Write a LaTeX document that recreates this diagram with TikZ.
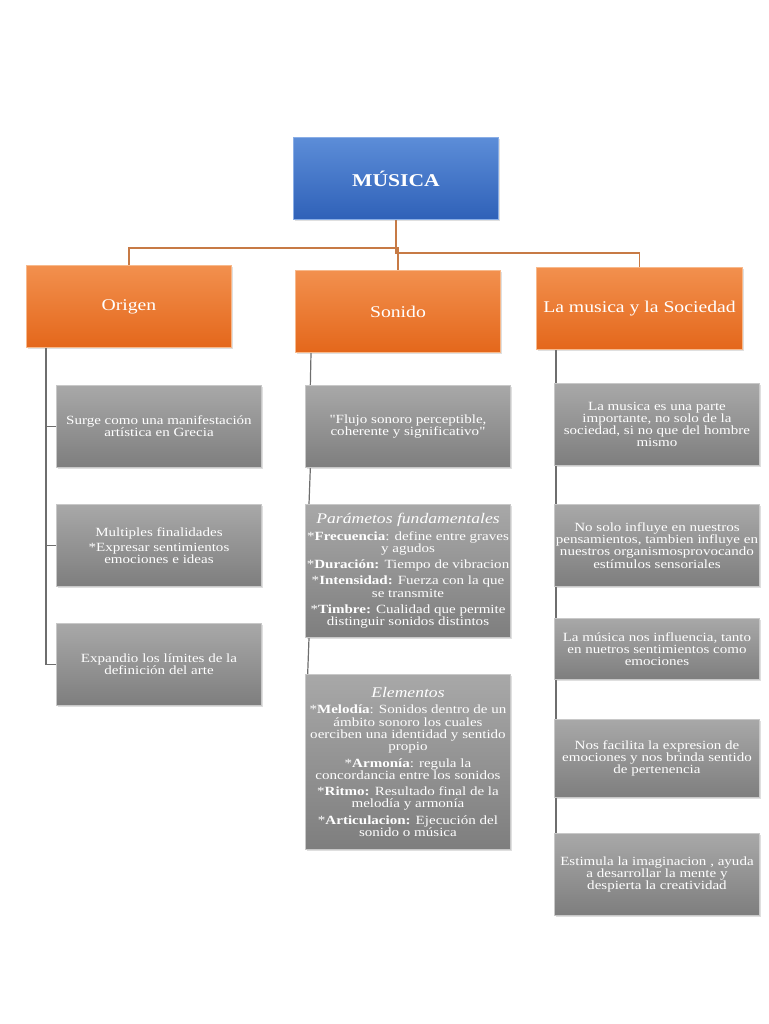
\documentclass[tikz,border=0pt]{standalone}
\usepackage{fontspec}
\setmainfont{Liberation Serif}[FakeStretch=1.2, Ligatures=TeXOff]
\usetikzlibrary{shadows,backgrounds}
\definecolor{bTop}{HTML}{5C8DD8}
\definecolor{bBot}{HTML}{2F61B8}
\definecolor{bEdge}{HTML}{8AAEE6}
\definecolor{oTop}{HTML}{F2904E}
\definecolor{oBot}{HTML}{E4671B}
\definecolor{oEdge}{HTML}{F7B98C}
\definecolor{gTop}{HTML}{A8A8A8}
\definecolor{gBot}{HTML}{7E7E7E}
\definecolor{gEdge}{HTML}{C8C8C8}
\definecolor{oLine}{HTML}{C77A45}
\definecolor{gLine}{HTML}{6E6E6E}
\tikzset{
  basebox/.style={rectangle, anchor=north west, align=center, inner sep=1pt,
    line width=0.7pt, drop shadow={opacity=0.25, shadow xshift=0.8pt, shadow yshift=-0.8pt},
    minimum width=153.75pt, minimum height=61.5pt, text=white},
  bluebox/.style={basebox, top color=bTop, bottom color=bBot, draw=bEdge,
    font=\fontsize{13.5}{15}\selectfont\bfseries},
  orangebox/.style={basebox, top color=oTop, bottom color=oBot, draw=oEdge,
    font=\fontsize{12.3}{14}\selectfont},
  graybox/.style={basebox, top color=gTop, bottom color=gBot, draw=gEdge,
    font=\fontsize{9.4}{9.2}\selectfont},
  oconn/.style={draw=oLine, line width=1.1pt},
  gconn/.style={draw=gLine, line width=0.9pt}
}
\newcommand{\hd}[1]{{\fontsize{11}{12}\selectfont\itshape #1}}
\begin{document}
\begin{tikzpicture}[x=0.75pt,y=-0.75pt]
\useasboundingbox (0,0) rectangle (768,1024);
% top
\node[bluebox] (musica) at (293,137) {MÚSICA};
% level 1
\node[orangebox] (origen) at (26,265) {Origen};
\node[orangebox] (sonido) at (295,270) {Sonido};
\node[orangebox, minimum width=154.5pt] (soc) at (536,267) {La musica y la Sociedad};
% Origen children
\node[graybox] (o1) at (56,385) {Surge como una manifestación\\artística en Grecia};
\node[graybox] (o2) at (56,504) {Multiples finalidades\\[2pt]*Expresar sentimientos\\emociones e ideas};
\node[graybox] (o3) at (56,623) {Expandio los límites de la\\definición del arte};
% Sonido children
\node[graybox] (s1) at (305,385) {"Flujo sonoro perceptible,\\coherente y significativo"};
\node[graybox, minimum height=99.75pt] (s2) at (305,504) {\hd{Parámetos fundamentales}\\[3pt]
*\textbf{Frecuencia}: define entre graves\\y agudos\\[3pt]
*\textbf{Duración:} Tiempo de vibracion\\[3pt]
*\textbf{Intensidad:} Fuerza con la que\\se transmite\\[3pt]
*\textbf{Timbre:} Cualidad que permite\\distinguir sonidos distintos};
\node[graybox, minimum height=131.25pt] (s3) at (305,674) {\hd{Elementos}\\[3pt]
*\textbf{Melodía}: Sonidos dentro de un\\ámbito sonoro los cuales\\oerciben una identidad y sentido\\propio\\[3pt]
*\textbf{Armonía}: regula la\\concordancia entre los sonidos\\[3pt]
*\textbf{Ritmo:} Resultado final de la\\melodía y armonía\\[3pt]
*\textbf{Articulacion:} Ejecución del\\sonido o música};
% Sociedad children
\node[graybox] (c1) at (554,383) {La musica es una parte\\importante, no solo de la\\sociedad, si no que del hombre\\mismo};
\node[graybox] (c2) at (554,504) {No solo influye en nuestros\\pensamientos, tambien influye en\\nuestros organismosprovocando\\estímulos sensoriales};
\node[graybox, minimum height=45.75pt] (c3) at (554,618) {La música nos influencia, tanto\\en nuetros sentimientos como\\emociones};
\node[graybox, minimum height=58.5pt] (c4) at (554,719) {Nos facilita la expresion de\\emociones y nos brinda sentido\\de pertenencia};
\node[graybox] (c5) at (554,833) {Estimula la imaginacion , ayuda\\a desarrollar la mente y\\despierta la creatividad};
% connectors
\begin{scope}[on background layer]
\draw[oconn] (musica.south) -- ++(0,28) -| (origen.north);
\draw[oconn] (musica.south) -- ++(0,28) -| (sonido.north);
\draw[oconn] (musica.south) -- ++(0,33) -| (soc.north);
\draw[gconn] ([xshift=15pt]origen.south west) |- (o1.west);
\draw[gconn] ([xshift=15pt]origen.south west) |- (o2.west);
\draw[gconn] ([xshift=15pt]origen.south west) |- (o3.west);
\draw[gconn] ([xshift=12pt]sonido.south west) -- ([xshift=4pt]s1.north west);
\draw[gconn] ([xshift=4pt]s1.south west) -- ([xshift=3pt]s2.north west);
\draw[gconn] ([xshift=3pt]s2.south west) -- ([xshift=2pt]s3.north west);
\draw[gconn] ([xshift=15pt]soc.south west) |- (c1.west);
\draw[gconn] ([xshift=15pt]soc.south west) |- (c2.west);
\draw[gconn] ([xshift=15pt]soc.south west) |- (c3.west);
\draw[gconn] ([xshift=15pt]soc.south west) |- (c4.west);
\draw[gconn] ([xshift=15pt]soc.south west) |- (c5.west);
\end{scope}
\end{tikzpicture}
\end{document}
